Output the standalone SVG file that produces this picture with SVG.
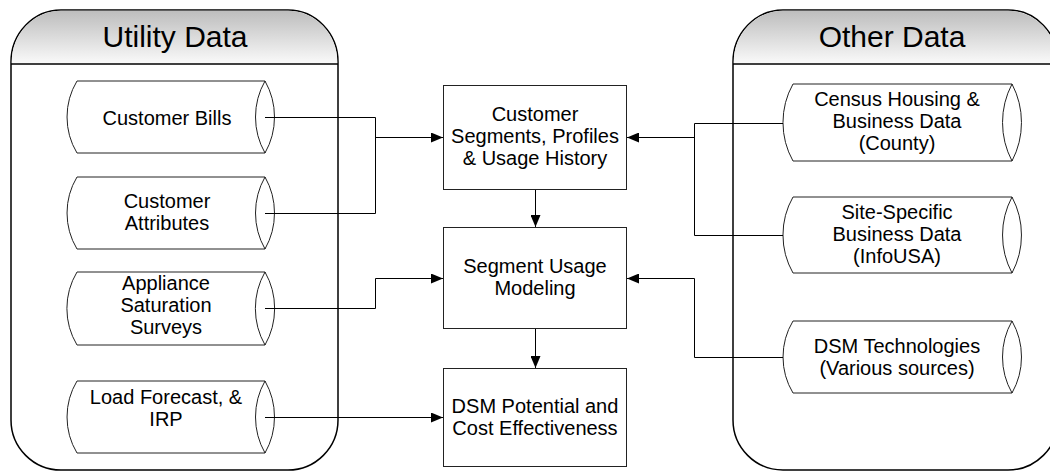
<svg xmlns="http://www.w3.org/2000/svg" width="1050" height="472" viewBox="0 0 1050 472">
  <defs>
    <linearGradient id="hdr" x1="0" y1="0" x2="0" y2="1">
      <stop offset="0" stop-color="#bdbdbd"/>
      <stop offset="1" stop-color="#fafafa"/>
    </linearGradient>
    <marker id="arr" viewBox="0 0 12 10" refX="12" refY="5" markerWidth="12" markerHeight="10" markerUnits="userSpaceOnUse" orient="auto">
      <path d="M0,0 L12,5 L0,10 Z" fill="#000"/>
    </marker>
  </defs>
  <style>
    .frame { fill: #fff; stroke: #000; stroke-width: 1.5; }
    .head { fill: url(#hdr); stroke: none; }
    .rule { stroke: #000; stroke-width: 1.5; fill: none; }
    .title { font-family: "Liberation Sans", Arial, sans-serif; font-size: 30px; fill: #000; text-anchor: middle; }
    .cyl { fill: #fff; stroke: #222; stroke-width: 1; }
    .box { fill: #fff; stroke: #222; stroke-width: 1; }
    .lbl { font-family: "Liberation Sans", Arial, sans-serif; font-size: 20px; fill: #000; text-anchor: middle; }
    .wire { fill: none; stroke: #000; stroke-width: 1; }
  </style>

  <!-- Source groups -->
  <g id="utility-data">
    <path class="frame" d="M11,62 A50,52 0 0 1 61,10 H288 A50,52 0 0 1 338,62 V420 A50,50 0 0 1 288,470 H61 A50,50 0 0 1 11,420 Z"/>
    <path class="head" d="M11.8,64 V62 A49,51 0 0 1 61,10.8 H288 A49,51 0 0 1 337.2,62 V64 Z"/>
    <line class="rule" x1="11" y1="64" x2="338" y2="64"/>
    <text class="title" x="175" y="47">Utility Data</text>
  </g>
  <g id="other-data">
    <path class="frame" d="M733,62 A50,52 0 0 1 783,10 H1008 A50,52 0 0 1 1058,62 V420 A50,50 0 0 1 1008,470 H783 A50,50 0 0 1 733,420 Z"/>
    <path class="head" d="M733.8,64 V62 A49,51 0 0 1 783,10.8 H1008 A49,51 0 0 1 1057.2,62 V64 Z"/>
    <line class="rule" x1="733" y1="64" x2="1058" y2="64"/>
    <text class="title" x="892" y="47">Other Data</text>
  </g>

  <!-- Data stores (left): body with a curved left end and a lens-shaped right end -->
  <g id="customer-bills">
    <path class="cyl" d="M265,81 H77 A70,70 0 0 0 77,153 H265 Z"/>
    <path class="cyl" d="M265,81 A73,73 0 0 0 265,153 A73,73 0 0 0 265,81 Z"/>
    <text class="lbl" x="167" y="125">Customer Bills</text>
  </g>
  <g id="customer-attributes">
    <path class="cyl" d="M265,177 H77 A70,70 0 0 0 77,249 H265 Z"/>
    <path class="cyl" d="M265,177 A73,73 0 0 0 265,249 A73,73 0 0 0 265,177 Z"/>
    <text class="lbl" x="167" y="208">Customer</text>
    <text class="lbl" x="167" y="230">Attributes</text>
  </g>
  <g id="appliance-surveys">
    <path class="cyl" d="M265,272 H77 A71,71 0 0 0 77,345 H265 Z"/>
    <path class="cyl" d="M265,272 A74,74 0 0 0 265,345 A74,74 0 0 0 265,272 Z"/>
    <text class="lbl" x="166" y="290">Appliance</text>
    <text class="lbl" x="166" y="312">Saturation</text>
    <text class="lbl" x="166" y="334">Surveys</text>
  </g>
  <g id="load-forecast">
    <path class="cyl" d="M265,381 H77 A70,70 0 0 0 77,453 H265 Z"/>
    <path class="cyl" d="M265,381 A73,73 0 0 0 265,453 A73,73 0 0 0 265,381 Z"/>
    <text class="lbl" x="166" y="404">Load Forecast, &amp;</text>
    <text class="lbl" x="166" y="426">IRP</text>
  </g>

  <!-- Process steps (centre) -->
  <g id="segments-profiles">
    <rect class="box" x="443.5" y="85.5" width="183" height="104"/>
    <text class="lbl" x="535" y="121">Customer</text>
    <text class="lbl" x="535" y="143">Segments, Profiles</text>
    <text class="lbl" x="535" y="165">&amp; Usage History</text>
  </g>
  <g id="segment-usage-modeling">
    <rect class="box" x="443.5" y="227.5" width="183" height="101"/>
    <text class="lbl" x="535" y="273">Segment Usage</text>
    <text class="lbl" x="535" y="295">Modeling</text>
  </g>
  <g id="dsm-potential">
    <rect class="box" x="443.5" y="368.5" width="183" height="98"/>
    <text class="lbl" x="535" y="413">DSM Potential and</text>
    <text class="lbl" x="535" y="435">Cost Effectiveness</text>
  </g>

  <!-- Data stores (right) -->
  <g id="census-data">
    <path class="cyl" d="M1012,84 H793 A79,79 0 0 0 793,161 H1012 Z"/>
    <path class="cyl" d="M1012,84 A83,83 0 0 0 1012,161 A83,83 0 0 0 1012,84 Z"/>
    <text class="lbl" x="897" y="106">Census Housing &amp;</text>
    <text class="lbl" x="897" y="128">Business Data</text>
    <text class="lbl" x="897" y="150">(County)</text>
  </g>
  <g id="site-specific-data">
    <path class="cyl" d="M1012,197 H793 A77,77 0 0 0 793,273 H1012 Z"/>
    <path class="cyl" d="M1012,197 A81,81 0 0 0 1012,273 A81,81 0 0 0 1012,197 Z"/>
    <text class="lbl" x="897" y="219">Site-Specific</text>
    <text class="lbl" x="897" y="241">Business Data</text>
    <text class="lbl" x="897" y="263">(InfoUSA)</text>
  </g>
  <g id="dsm-technologies">
    <path class="cyl" d="M1012,321 H793 A70,70 0 0 0 793,393 H1012 Z"/>
    <path class="cyl" d="M1012,321 A73,73 0 0 0 1012,393 A73,73 0 0 0 1012,321 Z"/>
    <text class="lbl" x="897" y="353">DSM Technologies</text>
    <text class="lbl" x="897" y="375">(Various sources)</text>
  </g>

  <!-- Connectors -->
  <g id="connectors">
    <path class="wire" d="M265,117.5 H375.5 V213.5 H265"/>
    <path class="wire" d="M375.5,137.5 H443" marker-end="url(#arr)"/>
    <path class="wire" d="M265,308.5 H375.5 V278.5 H443" marker-end="url(#arr)"/>
    <path class="wire" d="M265,417.5 H443" marker-end="url(#arr)"/>
    <path class="wire" d="M535.5,190 V227" marker-end="url(#arr)"/>
    <path class="wire" d="M535.5,329 V368" marker-end="url(#arr)"/>
    <path class="wire" d="M783,123.5 H694.5 V235.5 H783"/>
    <path class="wire" d="M694.5,137.5 H627" marker-end="url(#arr)"/>
    <path class="wire" d="M783,357.5 H694.5 V278.5 H627" marker-end="url(#arr)"/>
  </g>
</svg>
